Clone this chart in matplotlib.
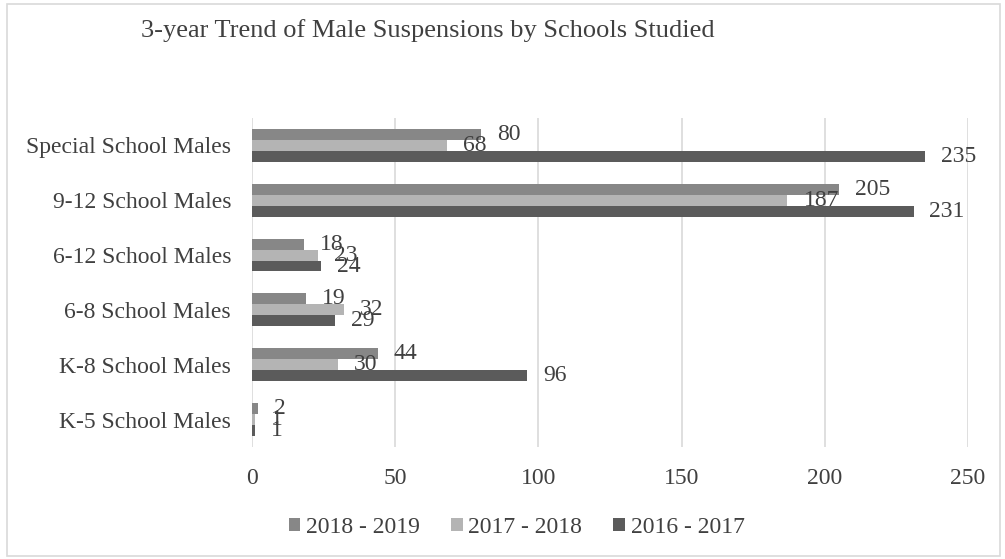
import numpy as np
import matplotlib.pyplot as plt
from matplotlib.patches import Rectangle

categories = ["K-5 School Males", "K-8 School Males", "6-8 School Males",
              "6-12 School Males", "9-12 School Males", "Special School Males"]
y2018_2019 = [2, 44, 19, 18, 205, 80]
y2017_2018 = [1, 30, 32, 23, 187, 68]
y2016_2017 = [1, 96, 29, 24, 231, 235]
series_names = ["2018 - 2019", "2017 - 2018", "2016 - 2017"]
colors = ["#878787", "#b4b4b4", "#5b5b5b"]
text_color = "#404040"

plt.rcParams['font.family'] = ['Liberation Serif', 'DejaVu Serif']

fig = plt.figure(figsize=(10.05, 5.59), dpi=100)
ax = fig.add_axes([0.2507, 0.2004, 0.7124, 0.5886])

y = np.arange(len(categories))
h = 0.2
series = [y2018_2019, y2017_2018, y2016_2017]
offsets = [h, 0, -h]
for vals, off, col, name in zip(series, offsets, colors, series_names):
    bars = ax.barh(y + off, vals, height=h, color=col, label=name, zorder=3)
    for b, v in zip(bars, vals):
        ax.annotate(str(v), (b.get_width(), b.get_y() + b.get_height() / 2),
                    xytext=(11.5, 0), textcoords='offset points',
                    ha='left', va='center', fontsize=17, color=text_color, zorder=4)

ax.set_xlim(0, 250)
ax.set_ylim(-0.5, len(categories) - 0.5)
ax.set_xticks(range(0, 251, 50))
ax.set_yticks(y)
ax.set_yticklabels(categories)
ax.grid(axis='x', color='#d9d9d9', linewidth=1.2, zorder=0)
for s in ax.spines.values():
    s.set_visible(False)
ax.tick_params(axis='both', length=0, labelsize=17, labelcolor=text_color)
ax.tick_params(axis='x', pad=15)
ax.tick_params(axis='y', pad=15)

fig.text(0.14, 0.945, "3-year Trend of Male Suspensions by Schools Studied",
         fontsize=19, color=text_color, ha='left', va='center')

leg = fig.legend(loc='center', bbox_to_anchor=(0.514, 0.057), ncol=3, frameon=False,
                 fontsize=17, handlelength=0.5, handleheight=0.5, handletextpad=0.25,
                 columnspacing=1.3)
for t in leg.get_texts():
    t.set_color(text_color)

fig.patches.append(Rectangle((0.007, 0.006), 0.988, 0.986, transform=fig.transFigure,
                             fill=False, edgecolor='#d9d9d9', linewidth=1.2))

fig.savefig("out.png", dpi=100)
